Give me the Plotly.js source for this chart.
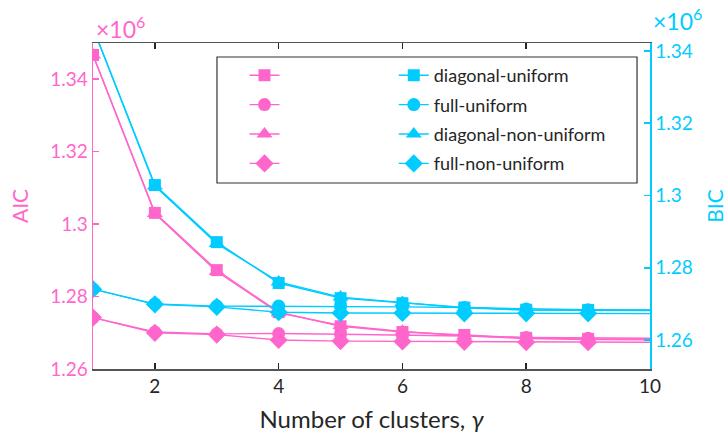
<!DOCTYPE html>
<html>
<head>
<meta charset="utf-8">
<script src="https://cdn.plot.ly/plotly-3.0.1.min.js"></script>
<style>html,body{margin:0;padding:0;background:#fff;}#chart{width:727px;height:441px;}</style>
</head>
<body>
<div id="chart"></div>
<script>
// Number of clusters (gamma)
const gamma = [1, 2, 3, 4, 5, 6, 7, 8, 9, 11];
// AIC values (x 10^6)
const aicDiagUniform    = [1.3467, 1.3031, 1.2873, 1.2757, 1.2718, 1.2702, 1.2694, 1.2686, 1.2683, 1.2682];
const aicFullUniform    = [1.2742, 1.2702, 1.2697, 1.2698, 1.2696, 1.2694, 1.2691, 1.2687, 1.2685, 1.2684];
const aicDiagNonUniform = [1.3467, 1.3029, 1.2869, 1.2755, 1.2720, 1.2704, 1.2692, 1.2684, 1.2681, 1.2680];
const aicFullNonUniform = [1.2742, 1.2700, 1.2695, 1.2680, 1.2677, 1.2676, 1.2675, 1.2674, 1.2674, 1.2673];
// BIC values (x 10^6)
const bicDiagUniform    = [1.3464, 1.3029, 1.2871, 1.2758, 1.2716, 1.2702, 1.2690, 1.2684, 1.2683, 1.2682];
const bicFullUniform    = [1.2741, 1.2700, 1.2694, 1.2694, 1.2693, 1.2692, 1.2690, 1.2686, 1.2684, 1.2683];
const bicDiagNonUniform = [1.3464, 1.3026, 1.2867, 1.2761, 1.2719, 1.2704, 1.2689, 1.2683, 1.2682, 1.2681];
const bicFullNonUniform = [1.2741, 1.2699, 1.2692, 1.2677, 1.2675, 1.2675, 1.2674, 1.2674, 1.2674, 1.2673];

const seriesNames = ['diagonal-uniform', 'full-uniform', 'diagonal-non-uniform', 'full-non-uniform'];
const symbols = ['square', 'circle', 'triangle-up', 'diamond'];
const yTicks = [1.26, 1.28, 1.30, 1.32, 1.34];
const yTickText = ['1.26', '1.28', '1.3', '1.32', '1.34'];
const xTicks = [2, 4, 6, 8, 10];

const PINK = '#FF66CC';
const CYAN = '#00CCFF';
const FONT = 'Lato, "Open Sans", sans-serif';
const TXT = '#262626';
const markerSizes = [12, 13, 14, 14];

const aicSets = [aicDiagUniform, aicFullUniform, aicDiagNonUniform, aicFullNonUniform];
const bicSets = [bicDiagUniform, bicFullUniform, bicDiagNonUniform, bicFullNonUniform];
const drawOrder = [3, 2, 1, 0];

const traces = [];
drawOrder.forEach(i => {
  traces.push({
    x: gamma, y: aicSets[i], type: 'scatter', mode: 'lines+markers',
    name: ' ', legend: 'legend', legendrank: i + 1, legendgroup: 'a' + i,
    line: {color: PINK, width: 1.4},
    marker: {symbol: symbols[i], size: markerSizes[i], color: PINK},
    xaxis: 'x', yaxis: 'y', cliponaxis: true
  });
});
drawOrder.forEach(i => {
  traces.push({
    x: gamma, y: bicSets[i], type: 'scatter', mode: 'lines+markers',
    name: seriesNames[i], legend: 'legend2', legendrank: i + 1, legendgroup: 'b' + i,
    line: {color: CYAN, width: 1.4},
    marker: {symbol: symbols[i], size: markerSizes[i], color: CYAN},
    xaxis: 'x', yaxis: 'y2', cliponaxis: true
  });
});

const layout = {
  width: 727, height: 441,
  margin: {l: 93, r: 77, t: 43, b: 72},
  paper_bgcolor: '#fff', plot_bgcolor: '#fff',
  font: {family: FONT, size: 19, color: TXT},
  showlegend: true,
  xaxis: {
    range: [1, 10], tickvals: xTicks, ticks: 'inside', ticklen: 6, tickwidth: 1.5, tickcolor: TXT,
    showline: true, linecolor: '#555', linewidth: 1.5, mirror: 'ticks', showgrid: false, zeroline: false,
    tickfont: {family: FONT, size: 19, color: TXT},
    title: {text: 'Number of clusters, <i>γ</i>', font: {family: FONT, size: 24, color: TXT}, standoff: 15}
  },
  yaxis: {
    range: [1.26, 1.35], tickvals: yTicks, ticktext: yTickText, ticks: 'inside', ticklen: 6, tickwidth: 1.5,
    tickcolor: PINK, showline: true, linecolor: PINK, linewidth: 1.5, showgrid: false, zeroline: false,
    tickfont: {family: FONT, size: 19, color: PINK},
    title: {text: 'AIC', font: {family: FONT, size: 21, color: PINK}, standoff: 16}
  },
  yaxis2: {
    range: [1.252, 1.3422], overlaying: 'y', side: 'right', tickvals: yTicks, ticktext: yTickText,
    ticks: 'inside', ticklen: 6, tickwidth: 1.5, tickcolor: CYAN, showline: true, linecolor: CYAN, linewidth: 1.5,
    showgrid: false, zeroline: false, tickfont: {family: FONT, size: 19, color: CYAN},
    title: {text: 'BIC', font: {family: FONT, size: 21, color: CYAN}, standoff: 20}
  },
  legend: {
    x: 0.272, y: 0.957, xanchor: 'left', yanchor: 'top', bgcolor: 'rgba(0,0,0,0)', borderwidth: 0,
    traceorder: 'grouped', tracegroupgap: 3, font: {family: FONT, size: 18, color: TXT}
  },
  legend2: {
    x: 0.54, y: 0.957, xanchor: 'left', yanchor: 'top', bgcolor: 'rgba(0,0,0,0)', borderwidth: 0,
    traceorder: 'grouped', tracegroupgap: 3, font: {family: FONT, size: 18, color: TXT}
  },
  shapes: [{
    type: 'rect', xref: 'paper', yref: 'paper', x0: 0.2226, x1: 0.9767, y0: 0.5706, y1: 0.957,
    line: {color: '#333', width: 1.2}, fillcolor: 'rgba(0,0,0,0)', layer: 'below'
  }],
  annotations: [
    {xref: 'paper', yref: 'paper', x: 0, y: 1, xanchor: 'left', yanchor: 'bottom', yshift: -2, xshift: 1, showarrow: false,
     text: '×10<sup>6</sup>', font: {family: FONT, size: 23, color: PINK}},
    {xref: 'paper', yref: 'paper', x: 1, y: 1, xanchor: 'left', yanchor: 'bottom', yshift: 6, xshift: 1, showarrow: false,
     text: '×10<sup>6</sup>', font: {family: FONT, size: 23, color: CYAN}}
  ]
};

Plotly.newPlot('chart', traces, layout, {staticPlot: true, displayModeBar: false});
</script>
</body>
</html>
